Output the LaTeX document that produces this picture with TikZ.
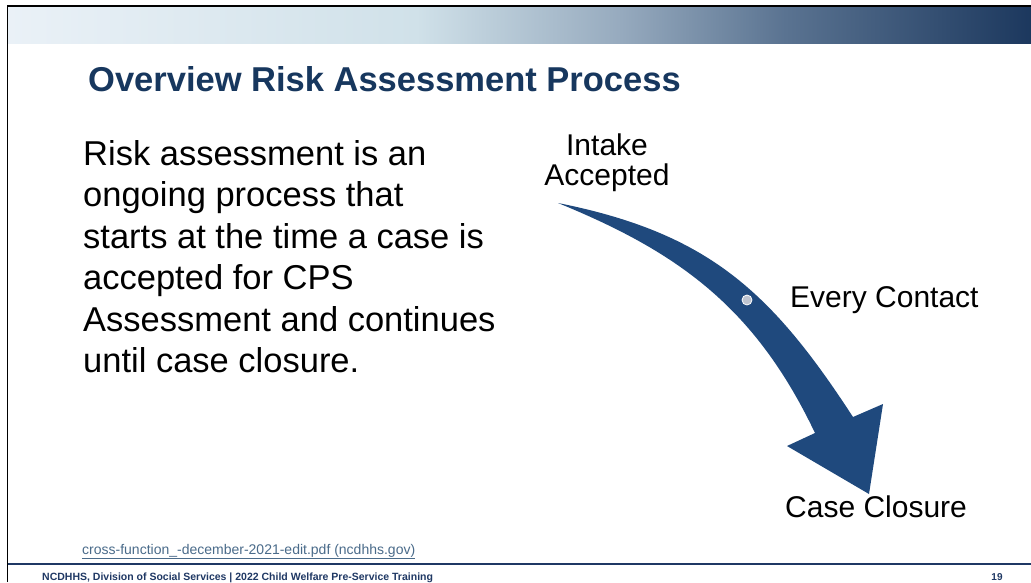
\documentclass[tikz,border=0pt]{standalone}
\usepackage{fontspec}
\setmainfont{Liberation Sans}
\definecolor{titleblue}{RGB}{23,55,94}
\definecolor{arrowblue}{RGB}{31,73,125}
\definecolor{navyline}{RGB}{31,56,100}
\definecolor{linkblue}{RGB}{74,107,138}
\definecolor{dotgray}{RGB}{190,196,208}
\definecolor{gA}{RGB}{234,241,247}
\definecolor{gB}{RGB}{208,225,233}
\definecolor{gC}{RGB}{150,170,190}
\definecolor{gD}{RGB}{90,115,145}
\definecolor{gE}{RGB}{28,56,94}
\pgfdeclarehorizontalshading{topbar}{100bp}{color(0bp)=(gA); color(25bp)=(gA); color(45bp)=(gB); color(55bp)=(gC); color(63bp)=(gD); color(75bp)=(gE); color(100bp)=(gE)}
\tikzset{
  body/.style={anchor=base west, inner sep=0pt, font=\fontsize{34.5}{41}\selectfont, text=black},
  lbl/.style={inner sep=0pt, font=\fontsize{30}{31}\selectfont, text=black},
}
\begin{document}
\begin{tikzpicture}[x=1pt,y=-1pt]
\useasboundingbox (0,0) rectangle (1031,582);
\fill[white] (0,0) rectangle (1031,582);
% header bar
\shade[shading=topbar] (7,7) rectangle (1031,43);
\draw[black, line width=1.5pt] (7.5,582) -- (7.5,6) -- (1031,6);
% footer line
\draw[navyline, line width=2pt] (8,564) -- (1031,564);
% title
\node[anchor=base west, inner sep=0pt, font=\fontsize{34.5}{40}\selectfont\bfseries, text=titleblue] (title) at (88,91) {Overview Risk Assessment Process};
% body text
\node[body] (b1) at (83,165) {Risk assessment is an};
\node[body] (b2) at (83,206.5) {ongoing process that};
\node[body] (b3) at (83,248) {starts at the time a case is};
\node[body] (b4) at (83,289.5) {accepted for CPS};
\node[body] (b5) at (83,331) {Assessment and continues};
\node[body] (b6) at (83,372.5) {until case closure.};
% arrow
\fill[arrowblue] (558,203) .. controls (708,233) and (771,291) .. (853,417)
  -- (883,404) -- (869,494) -- (787,446) -- (815,433)
  .. controls (755,307) and (678,252) .. (558,203) -- cycle;
\filldraw[fill=dotgray, draw=white, line width=0.8pt] (747,300) circle[radius=5pt];
% labels
\node[lbl, anchor=base] (intake) at (607,155) {Intake};
\node[lbl, anchor=base] (accepted) at (607,185) {Accepted};
\node[lbl, anchor=base west] (contact) at (790,307) {Every Contact};
\node[lbl, anchor=base west] (closure) at (785,517) {Case Closure};
% footer
\node[anchor=base west, inner sep=0pt, text=linkblue, font=\fontsize{14}{16}\selectfont] (link) at (82,554) {\underline{cross-function\_-december-2021-edit.pdf (ncdhhs.gov)}};
\node[anchor=base west, inner sep=0pt, text=navyline, font=\fontsize{10.5}{12}\selectfont\bfseries] (foot) at (42,580.5) {NCDHHS, Division of Social Services | 2022 Child Welfare Pre-Service Training};
\node[anchor=base, inner sep=0pt, text=navyline, font=\fontsize{10}{12}\selectfont\bfseries] (page) at (997,580.5) {19};
\end{tikzpicture}
\end{document}
